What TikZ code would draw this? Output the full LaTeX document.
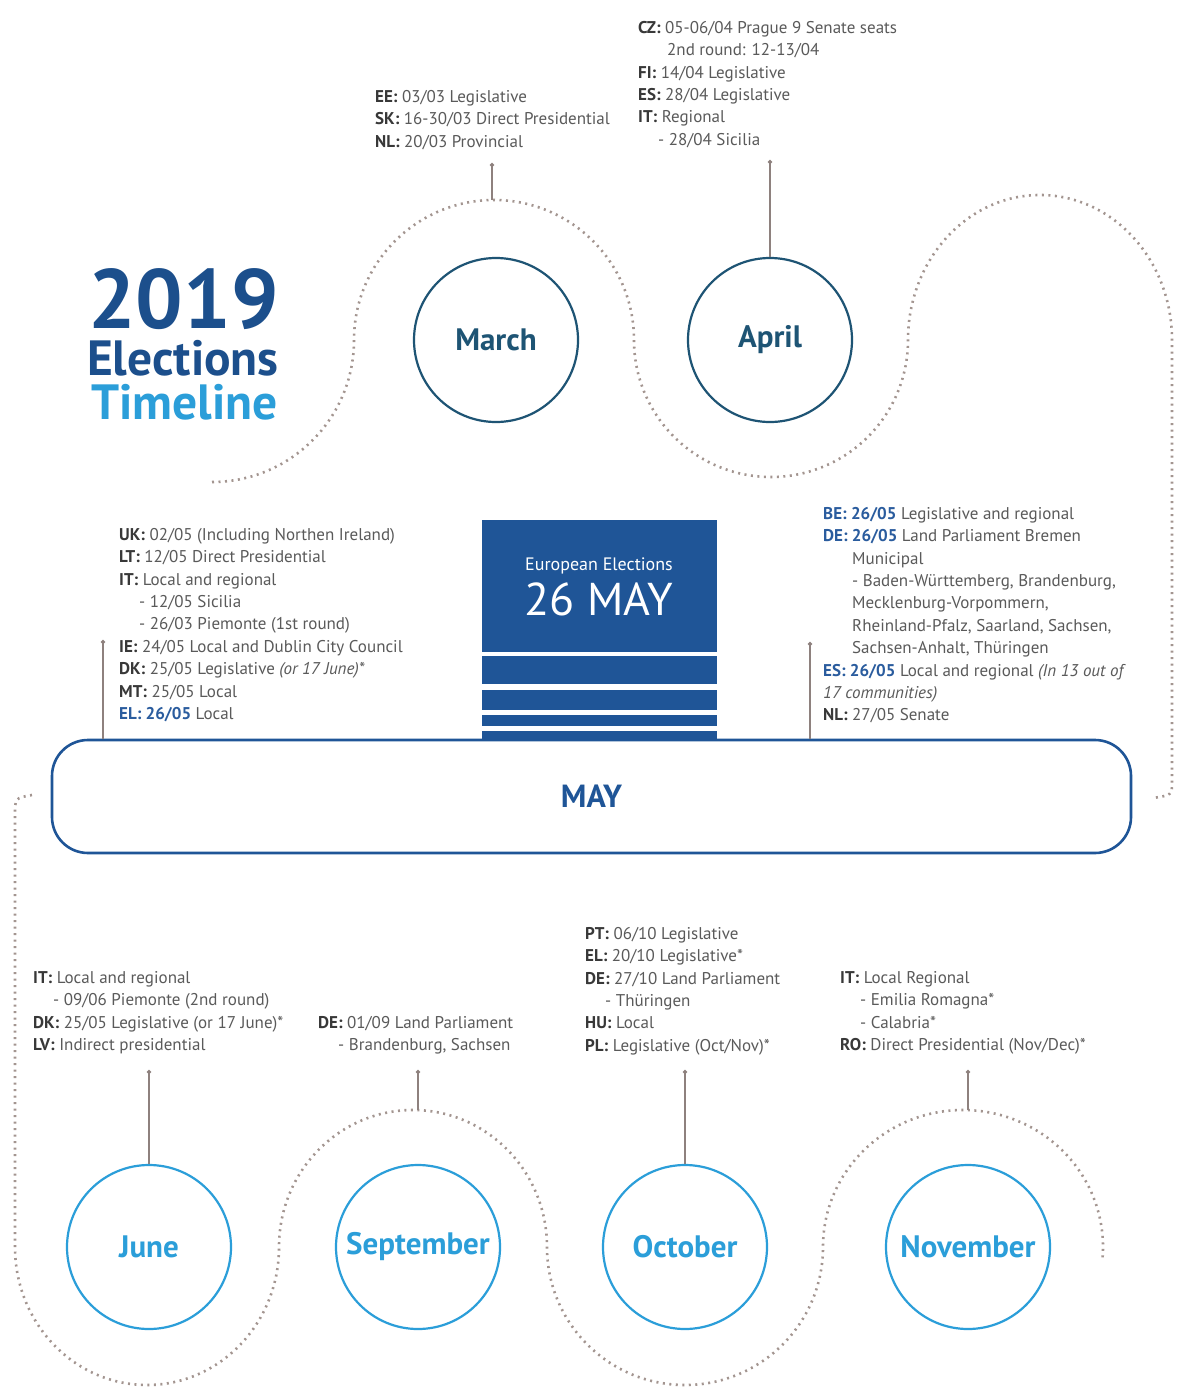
\documentclass[tikz,border=0pt]{standalone}
\usepackage{fontspec}
\setmainfont{PT Sans}
\usetikzlibrary{arrows.meta}

\definecolor{navy}{HTML}{1C4F8C}
\definecolor{euroblue}{HTML}{1F5597}
\definecolor{skyblue}{HTML}{2B9ED9}
\definecolor{teal}{HTML}{1E5474}
\definecolor{hiblue}{HTML}{2A5C9E}
\definecolor{infogrey}{HTML}{5A5A5A}
\definecolor{labelgrey}{HTML}{383838}
\definecolor{trailcol}{HTML}{A39590}
\definecolor{pincol}{HTML}{8E817E}

\newcommand{\cc}[1]{{\bfseries\color{labelgrey}#1:} }
\newcommand{\ccblue}[2]{{\bfseries\color{hiblue}#1: #2} }
\newcommand{\ind}{\hspace*{20pt}}

\tikzset{
  month/.style={circle, draw=#1, line width=2.2pt, minimum size=164pt, inner sep=0pt,
    text=#1, font=\fontsize{31}{33}\selectfont\bfseries},
  info/.style={anchor=north west, align=left, inner sep=0pt, text=infogrey,
    font=\fontsize{17}{22.4}\selectfont},
  trail/.style={draw=trailcol, line width=2.6pt, dash pattern=on 2pt off 4.5pt},
  pin/.style={draw=pincol, line width=1.8pt, {Circle[length=4pt]}-},
  title/.style={anchor=base east, inner sep=0pt, font=\bfseries},
}

\begin{document}
\begin{tikzpicture}[x=1pt, y=-1pt]
    \fill[white] (0,0) rectangle (1177,1394);
    \useasboundingbox (0,0) rectangle (1177,1394);

    % winding trail, upper half
    \draw[trail] (212,482) arc[start angle=90, end angle=0, radius=142]
        arc[start angle=180, end angle=360, radius=140]
        arc[start angle=180, end angle=0, radius=137]
        arc[start angle=180, end angle=360, x radius=132, y radius=145]
        -- (1172,782) .. controls (1172,795) .. (1153,798);
    % winding trail, lower half
    \draw[trail] (32,795) .. controls (15,798) .. (15,815) -- (15,1247)
        arc[start angle=180, end angle=0, x radius=132, y radius=138]
        arc[start angle=180, end angle=360, x radius=134, y radius=137]
        arc[start angle=180, end angle=0, x radius=138, y radius=138]
        arc[start angle=180, end angle=365, x radius=140, y radius=137];

    % title
    \node (year) [title, text=navy, font=\fontsize{84}{84}\selectfont\bfseries] at (279,328) {2019};
    \node (elect) [title, text=navy, font=\fontsize{49.5}{50}\selectfont\bfseries] at (279,375) {Elections};
    \node (tline) [title, text=skyblue, font=\fontsize{49.5}{50}\selectfont\bfseries] at (278,419) {Timeline};

    % months
    \node (march) [month=teal] at (496,340) {March};
    \node (april) [month=teal] at (770,340) {April};
    \node (june) [month=skyblue] at (149,1247) {June};
    \node (sept) [month=skyblue] at (418,1247) {September};
    \node (oct) [month=skyblue] at (685,1247) {October};
    \node (nov) [month=skyblue] at (968,1247) {November};

    % european elections block
    \node (euro) [fill=euroblue, minimum width=235pt, minimum height=132pt, inner sep=0pt] at (599.5,586) {};
    \fill[euroblue] (482,656) rectangle (717,684);
    \fill[euroblue] (482,690) rectangle (717,710);
    \fill[euroblue] (482,715) rectangle (717,726);
    \fill[euroblue] (482,731) rectangle (717,740);
    \node (eurotitle) [text=white, font=\fontsize{18}{20}\selectfont] at (599,566) {European Elections};
    \node (eurodate) [text=white, font=\fontsize{46}{50}\selectfont] at (599,599) {26 MAY};

    % may bar
    \node (may) [draw=euroblue, fill=white, line width=2.6pt, rounded corners=36pt,
        minimum width=1079pt, minimum height=113pt, text=euroblue,
        font=\fontsize{32}{34}\selectfont\bfseries] at (591.5,796.5) {MAY};

    % dates
    \node (marchtxt) [info] at (375,90) {\cc{EE}03/03 Legislative\\
        \cc{SK}16-30/03 Direct Presidential\\
        \cc{NL}20/03 Provincial};
    \node (apriltxt) [info] at (638,21) {\cc{CZ}05-06/04 Prague 9 Senate seats\\
        \hspace*{29pt}2nd round: 12-13/04\\
        \cc{FI}14/04 Legislative\\
        \cc{ES}28/04 Legislative\\
        \cc{IT}Regional\\
        \ind - 28/04 Sicilia};
    \node (mayLtxt) [info] at (119,528) {\cc{UK}02/05 (Including Northen Ireland)\\
        \cc{LT}12/05 Direct Presidential\\
        \cc{IT}Local and regional\\
        \ind - 12/05 Sicilia\\
        \ind - 26/03 Piemonte (1st round)\\
        \cc{IE}24/05 Local and Dublin City Council\\
        \cc{DK}25/05 Legislative \textit{(or 17 June)*}\\
        \cc{MT}25/05 Local\\
        \ccblue{EL}{26/05}Local};
    \node (mayRtxt) [info] at (823,507) {\ccblue{BE}{26/05}Legislative and regional\\
        \ccblue{DE}{26/05}Land Parliament Bremen\\
        \hspace*{29pt}Municipal\\
        \hspace*{29pt}- Baden-Württemberg, Brandenburg,\\
        \hspace*{29pt}Mecklenburg-Vorpommern,\\
        \hspace*{29pt}Rheinland-Pfalz, Saarland, Sachsen,\\
        \hspace*{29pt}Sachsen-Anhalt, Thüringen\\
        \ccblue{ES}{26/05}Local and regional \textit{(In 13 out of}\\
        \textit{17 communities)}\\
        \cc{NL}27/05 Senate};
    \node (junetxt) [info] at (33,971) {\cc{IT}Local and regional\\
        \ind - 09/06 Piemonte (2nd round)\\
        \cc{DK}25/05 Legislative (or 17 June)*\\
        \cc{LV}Indirect presidential};
    \node (septtxt) [info] at (318,1016) {\cc{DE}01/09 Land Parliament\\
        \ind - Brandenburg, Sachsen};
    \node (octtxt) [info] at (585,927) {\cc{PT}06/10 Legislative\\
        \cc{EL}20/10 Legislative*\\
        \cc{DE}27/10 Land Parliament\\
        \ind - Thüringen\\
        \cc{HU}Local\\
        \cc{PL}Legislative (Oct/Nov)*};
    \node (novtxt) [info] at (840,971) {\cc{IT}Local Regional\\
        \ind - Emilia Romagna*\\
        \ind - Calabria*\\
        \cc{RO}Direct Presidential (Nov/Dec)*};

    % pins from the dates down to the trail
    \coordinate (marchpin) at (492,163);
    \coordinate (marchtop) at (492,200);
    \coordinate (aprilpin) at (770,160);
    \coordinate (mayLpin) at (103,640);
    \coordinate (mayRpin) at (810,642);
    \coordinate (junepin) at (149,1070);
    \coordinate (septpin) at (418,1070);
    \coordinate (septtop) at (418,1110);
    \coordinate (octpin) at (685,1070);
    \coordinate (novpin) at (968,1070);
    \coordinate (novtop) at (968,1110);

    \draw[pin] (marchpin) -- (marchtop);
    \draw[pin] (aprilpin) -- (april.north);
    \draw[pin] (mayLpin) -- (mayLpin |- may.north);
    \draw[pin] (mayRpin) -- (mayRpin |- may.north);
    \draw[pin] (junepin) -- (june.north);
    \draw[pin] (septpin) -- (septtop);
    \draw[pin] (octpin) -- (oct.north);
    \draw[pin] (novpin) -- (novtop);
\end{tikzpicture}
\end{document}
